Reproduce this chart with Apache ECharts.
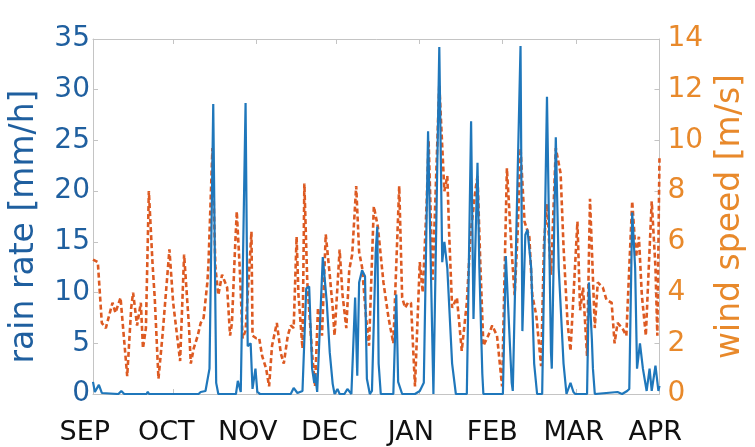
<!DOCTYPE html>
<html>
<head>
<meta charset="utf-8">
<script src="https://cdn.jsdelivr.net/npm/echarts@6/dist/echarts.min.js"></script>
<style>
html,body{margin:0;padding:0;background:#fff;}
#chart{width:755px;height:447px;}
</style>
</head>
<body>
<div id="chart"></div>
<script>
// x values are days since 1 September
var monthLabels = ['SEP','OCT','NOV','DEC','JAN','FEB','MAR','APR'];
var monthStartDays = [0,30,61,91,122,153,181,212];

var rainDays = [0,0.7,2.2,3.3,9.5,10.6,11.7,20.0,20.5,21.0,39.5,40.3,42.1,43.6,45.0,46.1,46.9,53.5,54.2,55.3,57.1,57.9,59.0,59.7,60.8,61.5,62.5,74.0,75.1,76.5,78.4,79.8,80.9,82.0,82.8,83.1,83.9,86.0,87.5,88.6,89.7,90.4,91.5,92.3,94.1,95.2,96.7,98.1,98.9,99.6,100.7,101.8,102.5,103.6,104.4,105.8,106.4,106.9,107.7,112.4,113.5,114.2,115.7,120.5,122.3,123.8,125.4,127.4,129.6,130.7,131.5,132.6,134.4,135.8,139.9,141.5,142.4,143.9,144.6,145.7,146.1,153.4,154.5,155.3,156.7,157.1,160.0,160.7,161.8,162.6,164.0,165.1,166.2,168.1,169.9,171.4,171.7,173.2,174.3,176.1,177.2,178.7,179.8,180.5,184.9,185.6,186.7,187.1,187.8,196.3,198.0,199.9,200.7,201.8,202.9,203.6,204.7,205.8,207.2,208.3,209.1,210.5,211.6,212.0];
var rainRate = [1.2,0.2,0.9,0.1,0,0.3,0,0,0.2,0,0,0.2,0.3,2.5,28.6,1.1,0,0,1.3,0.2,28.7,4.7,5.0,0.5,2.5,0.2,0,0,0.6,0.1,0.3,10.4,10.6,2.5,1.1,2.0,0.2,13.5,9.0,4.1,1.0,0,0.5,0,0,0.5,0,9.5,1.8,11.0,12.2,11.6,1.5,0,0.3,14.0,16.5,3.0,0,0,9.8,1.2,0,0,0.3,1.1,25.9,0,34.2,13.0,15.0,12.4,3.0,0,0,26.9,7.4,22.8,12.4,2.0,0,0,13.6,9.0,1.1,0.3,34.3,6.2,15.7,16.2,12.4,3.0,0,0,29.3,4.1,2.5,25.3,12.4,3.0,0,1.1,0.2,0,0,11.0,5.4,2.5,0,0.2,0,0.3,0.5,17.9,12.4,2.5,5.0,2.5,0.3,2.5,0.3,2.8,0.3,0.8];

var windDays = [0,1.8,3.3,4.8,7.3,8.4,10.3,12.8,14.3,15.0,16.5,17.9,18.7,19.8,20.9,22.3,23.1,24.5,26.0,28.6,30.0,32.6,34.1,35.9,36.6,37.7,39.2,40.3,41.4,42.8,43.2,44.7,45.8,46.9,48.3,50.2,51.3,52.0,53.1,53.8,54.9,56.0,57.1,59.3,59.7,61.1,62.2,63.3,64.8,65.9,67.0,68.8,70.3,71.4,72.9,74.0,75.1,76.2,76.9,78.4,79.1,80.2,82.0,83.1,84.2,85.7,87.1,88.6,89.7,90.4,92.3,93.4,94.8,95.9,97.0,98.5,99.6,100.7,102.2,103.3,105.1,106.6,108.7,110.6,112.4,114.6,115.7,116.8,117.9,119.0,120.5,122.3,123.4,124.9,125.6,127.1,129.6,131.5,132.6,133.3,134.4,136.2,138.0,139.9,141.3,143.2,143.9,145.0,146.1,147.9,149.4,151.2,153.1,154.9,156.7,157.8,158.9,160.0,161.5,163.3,164.4,165.9,167.7,168.8,169.9,171.4,173.2,175.0,176.1,177.6,178.7,181.3,182.3,183.4,184.9,186.0,187.8,188.9,190.8,192.2,194.1,195.2,196.3,198.1,199.6,200.7,201.8,203.2,204.3,205.4,206.9,208.0,209.1,210.5,211.2,212.0];
var windSpeed = [5.3,5.2,2.8,2.6,3.6,3.2,3.8,0.7,3.4,4.0,2.7,3.6,1.8,2.6,8.0,5.1,3.8,0.6,2.3,5.7,3.6,1.3,5.5,2.7,1.2,1.8,2.3,2.8,3.0,4.4,5.1,9.7,5.0,3.9,4.7,4.2,2.3,2.8,5.6,7.2,5.0,2.2,2.5,6.4,2.3,2.2,2.2,1.5,1.0,0.3,1.9,2.8,1.6,1.2,2.3,2.7,2.6,6.2,3.9,1.8,8.3,4.4,1.6,0.3,3.4,2.3,6.3,4.7,3.4,2.3,5.7,3.9,2.6,4.9,5.5,8.2,5.6,5.0,3.0,1.9,7.4,6.6,4.4,3.0,2.0,8.2,3.8,3.4,3.6,3.6,0.3,5.2,4.0,7.6,10.0,4.5,12.2,8.0,8.6,6.3,3.4,3.8,1.7,3.6,6.3,8.1,8.6,5.0,1.9,2.3,2.7,2.3,0.3,8.9,5.6,3.9,6.3,9.7,6.8,6.2,3.9,3.1,1.1,6.0,7.5,4.7,9.7,8.7,5.8,2.8,1.7,6.8,3.3,4.2,1.5,7.7,2.6,4.4,4.2,3.7,3.6,2.0,2.8,2.6,2.3,5.0,7.6,5.4,6.2,3.9,2.3,5.0,7.6,5.0,2.3,9.3];

var rainTicks = [0,5,10,15,20,25,30,35];
var windTicks = [0,2,4,6,8,10,12,14];

function pairs(xs, ys){ var out=[]; for (var i=0;i<xs.length;i++) out.push([xs[i], ys[i]]); return out; }

var FONT = 'DejaVu Sans';
var BLUE_TXT = '#1f5f9f';
var ORANGE_TXT = '#e8892b';
var BOX = '#c4c4c4';

var chart = echarts.init(document.getElementById('chart'), null, {renderer:'canvas'});
chart.setOption({
  animation:false,
  backgroundColor:'#ffffff',
  grid:[
    {left:90, right:86, top:39, bottom:53, containLabel:false},
    {left:44, right:59, top:39, bottom:53, containLabel:false}
  ],
  xAxis:[
    {type:'value', gridIndex:0, position:'bottom', min:0, max:212,
     axisLine:{show:true, lineStyle:{color:BOX, width:1}},
     axisTick:{show:true, inside:true, length:5, customValues:monthStartDays, lineStyle:{color:BOX}},
     axisLabel:{show:false}, splitLine:{show:false}},
    {type:'value', gridIndex:0, position:'top', min:0, max:212,
     axisLine:{show:true, onZero:false, lineStyle:{color:BOX, width:1}},
     axisTick:{show:true, inside:true, length:5, customValues:monthStartDays, lineStyle:{color:BOX}},
     axisLabel:{show:false}, splitLine:{show:false}},
    {type:'category', gridIndex:1, position:'bottom', data:monthLabels, boundaryGap:true,
     axisLine:{show:false}, axisTick:{show:false}, splitLine:{show:false},
     axisLabel:{show:true, interval:0, margin:25, color:'#111', fontFamily:FONT, fontSize:27}}
  ],
  yAxis:[
    {type:'value', gridIndex:0, position:'left', min:0, max:35, interval:5,
     axisLine:{show:true, onZero:false, lineStyle:{color:BOX}},
     axisTick:{show:true, inside:true, length:5, lineStyle:{color:BOX}},
     splitLine:{show:false},
     axisLabel:{show:true, margin:3, color:BLUE_TXT, fontFamily:FONT, fontSize:28, padding:[0,0,26,0],
       customValues:rainTicks},
     name:'rain rate [mm/h]', nameLocation:'middle', nameRotate:90, nameGap:52,
     nameTextStyle:{color:BLUE_TXT, fontFamily:FONT, fontSize:33, padding:[0,20,0,0]}},
    {type:'value', gridIndex:0, position:'right', min:0, max:14, interval:2,
     axisLine:{show:true, onZero:false, lineStyle:{color:BOX}},
     axisTick:{show:true, inside:true, length:5, lineStyle:{color:BOX}},
     splitLine:{show:false},
     axisLabel:{show:true, margin:8, color:ORANGE_TXT, fontFamily:FONT, fontSize:28, customValues:windTicks},
     name:'wind speed [m/s]', nameLocation:'middle', nameRotate:90, nameGap:49,
     nameTextStyle:{color:ORANGE_TXT, fontFamily:FONT, fontSize:33}},
    {type:'value', gridIndex:1, show:false, min:0, max:1}
  ],
  series:[
    {name:'wind', type:'line', xAxisIndex:0, yAxisIndex:1, data:pairs(windDays, windSpeed),
     showSymbol:false, symbol:'none', z:2,
     lineStyle:{color:'#dd5a22', width:2.6, type:[5,3]}},
    {name:'rain', type:'line', xAxisIndex:0, yAxisIndex:0, data:pairs(rainDays, rainRate),
     showSymbol:false, symbol:'none', z:3,
     lineStyle:{color:'#1f77bb', width:2.2}}
  ]
});
</script>
</body>
</html>
